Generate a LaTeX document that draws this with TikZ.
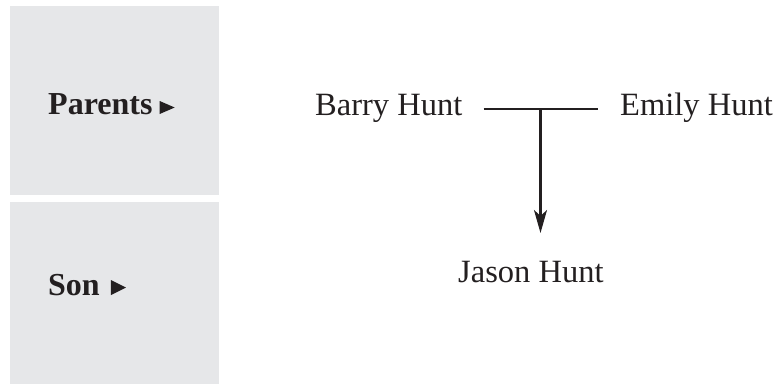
\documentclass[tikz,border=0pt]{standalone}
\usepackage{fontspec}
\setmainfont{Liberation Serif}
\usetikzlibrary{arrows.meta,calc}
\definecolor{panelgray}{HTML}{E6E7E9}
\definecolor{ink}{HTML}{231F20}
\tikzset{
  panel/.style={fill=panelgray,draw=none},
  label/.style={inner sep=0pt,anchor=base west,text=ink,font=\fontsize{32}{36}\selectfont\bfseries},
  person/.style={inner sep=0pt,anchor=base west,text=ink,font=\fontsize{32.5}{36}\selectfont},
  marker/.style={fill=ink,draw=none},
  link/.style={draw=ink,line width=2.4pt},
  arrowlink/.style={draw=ink,line width=2.4pt,-{Stealth[length=23pt,width=13pt,inset=6pt]}}
}
\begin{document}
\begin{tikzpicture}[x=1pt,y=-1pt]
\useasboundingbox (0,0) rectangle (778,386);
\fill[white] (0,0) rectangle (778,386);
\path[panel] (10,6) rectangle (219,195);
\path[panel] (10,202) rectangle (219,384);
\node[label] (parents) at (48,114) {Parents};
\node[label] (son) at (48,295) {Son};
\path[marker] ($(parents.base east)+(7,-13)$) -- ++(0,13) -- ++(15,-6.5) -- cycle;
\path[marker] ($(son.base east)+(11,-15)$) -- ++(0,15) -- ++(15,-7.5) -- cycle;
\node[person] (barry) at (315,115) {Barry Hunt};
\node[person] (emily) at (620,115) {Emily Hunt};
\node[person] (jason) at (458,282) {Jason Hunt};
\coordinate (mid) at (540.5,109);
\draw[link] ([xshift=21pt]barry.east |- mid) -- ([xshift=-22pt]emily.west |- mid);
\draw[arrowlink] (mid) -- (mid |- 0,233);
\end{tikzpicture}
\end{document}
